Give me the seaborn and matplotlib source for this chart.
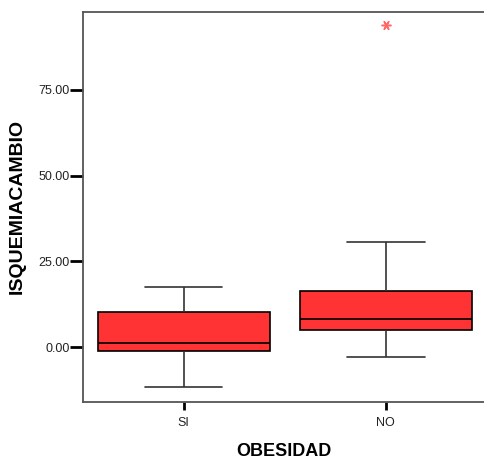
import pandas as pd
import matplotlib.pyplot as plt
import seaborn as sns

# Values (quartiles, whiskers, outlier)
si_values = [-11.5, -1.25, 1.1, 10.3, 17.6]
no_values = [-2.8, 5.0, 5.0, 8.2, 8.2, 16.4, 16.4, 30.7, 93.9]
groups = ['SI', 'NO']
y_ticks = [0, 25, 50, 75]

df = pd.DataFrame({
    'OBESIDAD': ['SI'] * len(si_values) + ['NO'] * len(no_values),
    'ISQUEMIACAMBIO': si_values + no_values,
})

sns.set_style('white')
plt.rcParams['font.family'] = ['Liberation Sans', 'DejaVu Sans']

fig = plt.figure(figsize=(4.85, 4.61), dpi=100)
ax = fig.add_axes([83 / 485, 59.3 / 461, 1 - 83 / 485, 390 / 461])

sns.boxplot(data=df, x='OBESIDAD', y='ISQUEMIACAMBIO', order=groups, ax=ax,
            color='#ff3333', saturation=1, width=0.85, linecolor='black',
            linewidth=1.2, capwidths=0.385,
            whiskerprops=dict(color='#333333', linewidth=1.2),
            capprops=dict(color='#333333', linewidth=1.2),
            medianprops=dict(color='black', linewidth=1.2),
            flierprops=dict(marker=(6, 2, 90), markersize=7, markeredgewidth=1.1,
                            markeredgecolor='#ff6666', markerfacecolor='#ff6666'))

ax.set_xlim(-0.497, 1.49)
ax.set_ylim(-15.9, 97.8)
ax.set_yticks(y_ticks)
ax.set_yticklabels([f'{v:.2f}' for v in y_ticks])

for side in ['left', 'bottom', 'top']:
    ax.spines[side].set_color('#555555')
    ax.spines[side].set_linewidth(1.3)
ax.spines['right'].set_visible(False)

ax.tick_params(axis='y', length=9.5, width=2, color='black', pad=0,
               labelsize=9, labelcolor='#222222', direction='out', left=True)
ax.tick_params(axis='x', length=6, width=2, color='black', pad=5,
               labelsize=9, labelcolor='#222222', direction='out', bottom=True)

ax.set_xlabel('OBESIDAD', fontsize=13, fontweight='bold', color='black')
ax.set_ylabel('ISQUEMIACAMBIO', fontsize=14, fontweight='bold', color='black')
ax.xaxis.set_label_coords(0.5, -0.106)
ax.yaxis.set_label_coords(-0.143, 0.5)

plt.savefig('out.png', dpi=100)
